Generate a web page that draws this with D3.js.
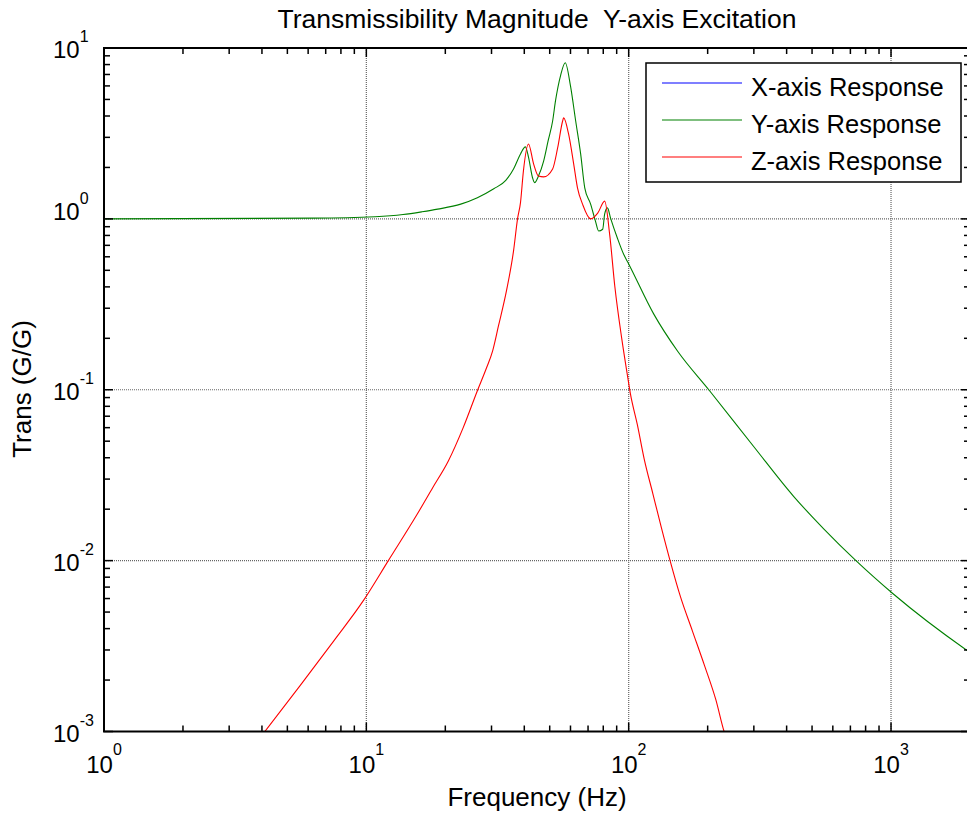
<!DOCTYPE html>
<html>
<head>
<meta charset="utf-8">
<script src="https://cdn.jsdelivr.net/npm/d3@7"></script>
<style>
  body { margin: 0; background: #fff; }
  svg { display: block; font-family: "Liberation Sans", Arial, sans-serif; }
</style>
</head>
<body>
<div id="chart"></div>
<script>
// Series (frequency in Hz, transmissibility G/G)
var xRespFreq = [];   // X-axis response does not show inside the plotted range
var xRespVal = [];

var yRespFreq = [1, 6.3, 10.8, 13.8, 16.3, 18.7, 22.9, 26.5, 30.6, 34, 36.4, 38.7, 40.4,
    41.5, 43, 43.8, 45.3, 47.4, 49.3, 51.3, 52.6, 55, 57.3, 60, 62.8, 65.6, 68, 71.6,
    74.7, 76.8, 79.6, 81, 83, 85.3, 90.6, 95.7, 100, 124.5, 153.7, 202, 300, 426, 555,
    735, 1018, 1950, 2000];
var yRespVal = [1.0, 1.01, 1.03, 1.06, 1.10, 1.14, 1.22, 1.33, 1.50, 1.68, 1.96, 2.40, 2.64,
    2.30, 1.74, 1.63, 1.78, 2.18, 2.86, 3.74, 4.9, 6.9, 8.2, 6.0, 3.74, 2.4, 1.52, 1.22,
    0.97, 0.85, 0.87, 1.07, 1.16, 1.01, 0.77, 0.62, 0.545, 0.278, 0.168, 0.1, 0.0464, 0.0237, 0.0153,
    0.01, 0.0064, 0.00298, 0.0029];

var zRespFreq = [4.0, 5.6, 7.48, 9.74, 12.13, 15.66, 17.9, 20.56, 23.4, 26.5, 28.7, 30.3,
    31.9, 34.2, 36.4, 37.7, 38.7, 39.7, 41.5, 43.4, 45.3, 47.4, 51.3, 53.6, 56.0, 56.5, 59,
    61.7, 63.8, 66.7, 71.6, 76.2, 81, 84.7, 88.6, 94.1, 98.6, 101.5, 107.9, 114.6, 123.6, 133.3,
    143.8, 157.5, 175, 194.6, 215, 231, 240];
var zRespVal = [0.00095, 0.00186, 0.00336, 0.00583, 0.01, 0.0188, 0.0267, 0.0384, 0.06, 0.0987,
    0.134, 0.169, 0.237, 0.379, 0.65, 1.0, 1.25, 1.91, 2.74, 2.1, 1.78, 1.76, 1.96, 2.6,
    3.74, 3.9, 3.14, 2.1, 1.52, 1.22, 1.0, 1.08, 1.27, 0.80, 0.399, 0.199, 0.125, 0.0949, 0.0625,
    0.0393, 0.0247, 0.01555, 0.01, 0.00615, 0.00387, 0.00243, 0.00153, 0.001, 0.00085];

var seriesNames = ['X-axis Response', 'Y-axis Response', 'Z-axis Response'];
var seriesColours = ['#0000ff', '#008000', '#ff0000'];

var xTickExp = [0, 1, 2, 3];
var yTickExp = [-3, -2, -1, 0, 1];

var width = 967;
var height = 820;
// plot box (right edge falls just past the picture, like the reference)
var pLeft = 104, pRight = 970, pTop = 48, pBottom = 731.5;

var svg = d3.select('#chart')
    .append('svg')
    .attr('width', width)
    .attr('height', height);

svg.append('rect')
    .attr('width', width)
    .attr('height', height)
    .attr('fill', '#fff');

var x = d3.scaleLog().domain([1, 2000]).range([pLeft, pRight]);
var y = d3.scaleLog().domain([1e-3, 10]).range([pBottom, pTop]);

svg.append('clipPath')
    .attr('id', 'plot-clip')
    .append('rect')
    .attr('x', pLeft)
    .attr('y', pTop)
    .attr('width', pRight - pLeft)
    .attr('height', pBottom - pTop);

// Grid at the decades only, dotted like matlab
var grid = svg.append('g');
xTickExp.filter(function(e) { return e > 0; }).forEach(function(e) {
    grid.append('line')
        .attr('x1', x(Math.pow(10, e))).attr('x2', x(Math.pow(10, e)))
        .attr('y1', pTop).attr('y2', pBottom);
});
yTickExp.filter(function(e) { return e > -3 && e < 1; }).forEach(function(e) {
    grid.append('line')
        .attr('x1', pLeft).attr('x2', pRight)
        .attr('y1', y(Math.pow(10, e))).attr('y2', y(Math.pow(10, e)));
});
grid.selectAll('line')
    .attr('stroke', '#666')
    .attr('stroke-width', 1.2)
    .attr('stroke-dasharray', '1,1');

// The curves
var line = d3.line()
    .x(function(d) { return x(d[0]); })
    .y(function(d) { return y(d[1]); })
    .curve(d3.curveMonotoneX);

var series = [
    d3.zip(xRespFreq, xRespVal),
    d3.zip(yRespFreq, yRespVal),
    d3.zip(zRespFreq, zRespVal)
];

var curves = svg.append('g').attr('clip-path', 'url(#plot-clip)');
series.forEach(function(pts, i) {
    if (!pts.length) {
        return;
    }
    curves.append('path')
        .datum(pts)
        .attr('fill', 'none')
        .attr('stroke', seriesColours[i])
        .attr('stroke-width', 1.1)
        .attr('d', line);
});

// Axes box
svg.append('rect')
    .attr('x', pLeft)
    .attr('y', pTop)
    .attr('width', pRight - pLeft)
    .attr('height', pBottom - pTop)
    .attr('fill', 'none')
    .attr('stroke', '#000')
    .attr('stroke-width', 2);

// Inward ticks on all four sides, major and minor
var ticks = svg.append('g').attr('stroke', '#000').attr('stroke-width', 1.5);
function xTick(v, len) {
    var px = x(v);
    ticks.append('line').attr('x1', px).attr('x2', px).attr('y1', pBottom).attr('y2', pBottom - len);
    ticks.append('line').attr('x1', px).attr('x2', px).attr('y1', pTop).attr('y2', pTop + len);
}
function yTick(v, len) {
    var py = y(v);
    ticks.append('line').attr('x1', pLeft).attr('x2', pLeft + len).attr('y1', py).attr('y2', py);
    ticks.append('line').attr('x1', pRight).attr('x2', pRight - len).attr('y1', py).attr('y2', py);
}
xTickExp.forEach(function(e) {
    var base = Math.pow(10, e);
    xTick(base, 9);
    for (var k = 2; k < 10; k++) {
        if (k * base <= 2000) {
            xTick(k * base, 6);
        }
    }
});
yTickExp.forEach(function(e) {
    var base = Math.pow(10, e);
    yTick(base, 9);
    if (e < 1) {
        for (var k = 2; k < 10; k++) {
            yTick(k * base, 6);
        }
    }
});

// Tick labels, 10 with a superscript
xTickExp.forEach(function(e) {
    var t = svg.append('text')
        .attr('x', x(Math.pow(10, e)))
        .attr('y', 773)
        .attr('text-anchor', 'middle')
        .attr('font-size', 24);
    t.append('tspan').text('10');
    t.append('tspan').attr('dy', -18).attr('font-size', 16).text(e);
});
yTickExp.forEach(function(e) {
    // matlab nudges the 10^0 label up a little
    var base = y(Math.pow(10, e)) + (e === 0 ? 1 : 10);
    var t = svg.append('text')
        .attr('x', 53)
        .attr('y', base)
        .attr('font-size', 24);
    t.append('tspan').text('10');
    t.append('tspan').attr('dy', -16).attr('font-size', 16).text(e);
});

// Titles
svg.append('text')
    .attr('x', (pLeft + pRight) / 2)
    .attr('y', 28)
    .attr('text-anchor', 'middle')
    .attr('font-size', 26.5)
    .style('white-space', 'pre')
    .text('Transmissibility Magnitude  Y-axis Excitation');

svg.append('text')
    .attr('x', (pLeft + pRight) / 2)
    .attr('y', 806)
    .attr('text-anchor', 'middle')
    .attr('font-size', 26)
    .text('Frequency (Hz)');

svg.append('text')
    .attr('transform', 'translate(31,389) rotate(-90)')
    .attr('text-anchor', 'middle')
    .attr('font-size', 26)
    .text('Trans (G/G)');

// Legend
var legend = svg.append('g');
legend.append('rect')
    .attr('x', 646)
    .attr('y', 63)
    .attr('width', 315)
    .attr('height', 119)
    .attr('fill', '#fff')
    .attr('stroke', '#000')
    .attr('stroke-width', 1.5);

seriesNames.forEach(function(name, i) {
    var ly = 83 + i * 37;
    legend.append('line')
        .attr('x1', 662).attr('x2', 742)
        .attr('y1', ly).attr('y2', ly)
        .attr('stroke', seriesColours[i])
        .attr('stroke-width', 1.2);
    legend.append('text')
        .attr('x', 751)
        .attr('y', ly + 12.5)
        .attr('font-size', 25.5)
        .text(name);
});
</script>
</body>
</html>
